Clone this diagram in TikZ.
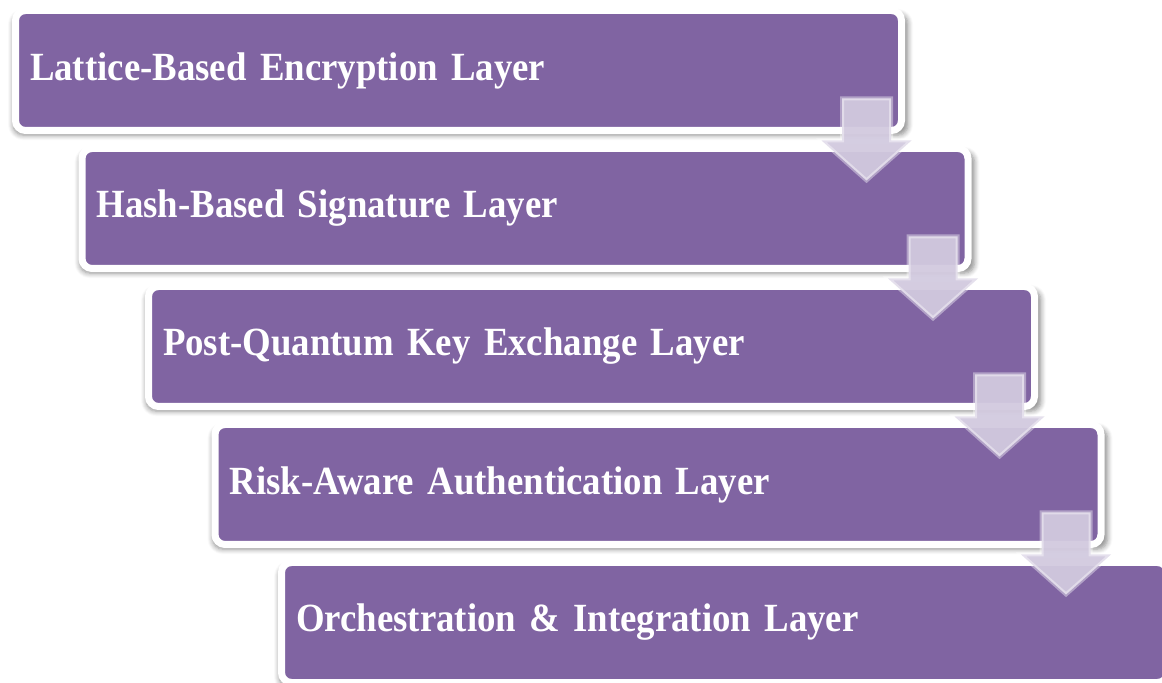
\documentclass[tikz,border=0pt]{standalone}
\usepackage{fontspec}
\setmainfont[FakeStretch=0.92]{Liberation Serif}
\usetikzlibrary{calc,shadows.blur}

\definecolor{layerpurple}{HTML}{8064A2}
\definecolor{arrowlav}{HTML}{D2CADF}

\tikzset{
  layer/.style={rectangle, rounded corners=5pt, fill=layerpurple, draw=white,
    line width=3.5pt, minimum height=60pt, text width=428.5pt, inner xsep=7.25pt,
    align=left, text=white, font=\fontsize{20}{24}\selectfont\bfseries,
    blur shadow={shadow xshift=1pt, shadow yshift=-2pt, shadow blur radius=2.5pt,
      shadow blur steps=6, shadow opacity=45, shadow scale=1.01}},
  flowarrow/.style={fill=arrowlav, fill opacity=0.95, draw=white, draw opacity=0.4,
    line width=2pt, line join=miter}
}

\begin{document}
\begin{tikzpicture}[x=0.5pt, y=-0.5pt]
  \useasboundingbox (0,0) rectangle (1162,683);
  \clip (0,0) rectangle (1162,683);
  % layers
  \node[layer] (lbe) at (458.5,70.5) {Lattice-Based Encryption Layer};
  \node[layer] (hbs) at (525,208.5) {Hash-Based Signature Layer};
  \node[layer] (pqk) at (591.5,346.5) {Post-Quantum Key Exchange Layer};
  \node[layer] (rau) at (658,484.5) {Risk-Aware Authentication Layer};
  \node[layer] (oil) at (724.5,622.5) {Orchestration \& Integration Layer};
  % down arrows between the layers
  \foreach \a/\b in {lbe/hbs, hbs/pqk, pqk/rau, rau/oil}{
    \draw[flowarrow, shift={($(\a.south east)+(-38.5,6.5)$)}]
      (-24.5,-42) -- (24.5,-42) -- (24.5,0) -- (45,0) -- (0,40)
      -- (-45,0) -- (-24.5,0) -- cycle;
  }
\end{tikzpicture}
\end{document}
